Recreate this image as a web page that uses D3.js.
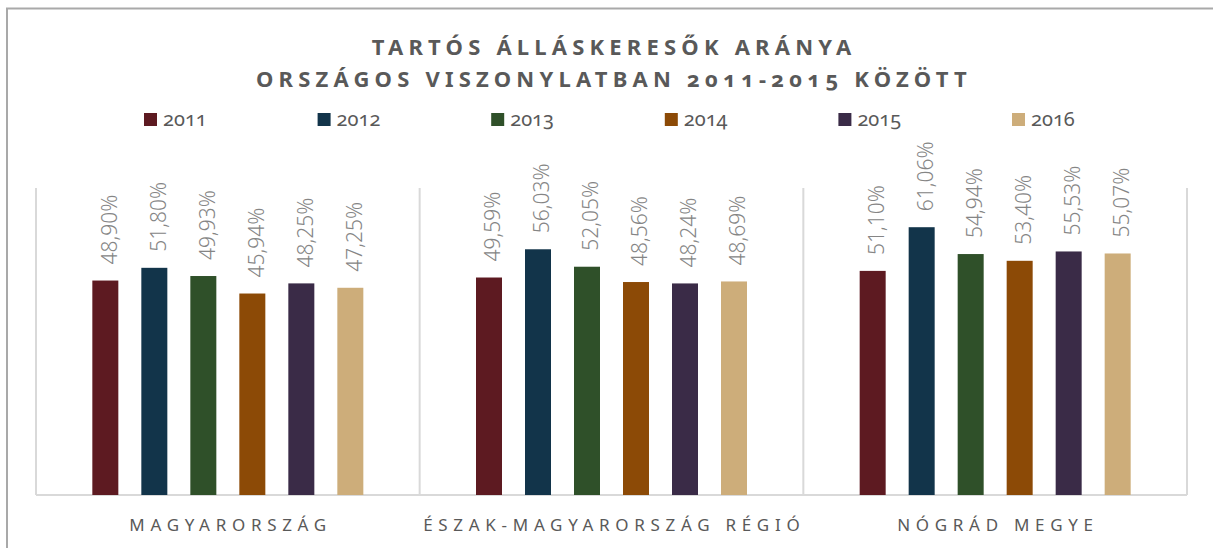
<!DOCTYPE html>
<html>
<head>
<meta charset="utf-8">
<script src="https://cdn.jsdelivr.net/npm/d3@7"></script>
<style>
  html, body { margin: 0; padding: 0; background: #fff; }
  svg { display: block; }
</style>
</head>
<body>
<svg id="chart" width="1213" height="548"></svg>
<script>
// Chart data
const categories = ["MAGYARORSZÁG", "ÉSZAK-MAGYARORSZÁG RÉGIÓ", "NÓGRÁD MEGYE"];
const years = ["2011", "2012", "2013", "2014", "2015", "2016"];
const values2011 = [48.90, 49.59, 51.10];
const values2012 = [51.80, 56.03, 61.06];
const values2013 = [49.93, 52.05, 54.94];
const values2014 = [45.94, 48.56, 53.40];
const values2015 = [48.25, 48.24, 55.53];
const values2016 = [47.25, 48.69, 55.07];
const seriesValues = [values2011, values2012, values2013, values2014, values2015, values2016];
const colors = ["#5d1a21", "#12344a", "#2f5029", "#8c4a06", "#3a2b47", "#cdad7a"];
const titleLines = ["TARTÓS ÁLLÁSKERESŐK ARÁNYA", "ORSZÁGOS VISZONYLATBAN 2011-2015 KÖZÖTT"];

const svg = d3.select("#chart");
const W = 1213, H = 548;
const plot = { left: 36, right: 1187, top: 188, bottom: 495 };

// Outer frame (only top and left edges are inside the view)
svg.append("path")
  .attr("d", `M7,${H} V8.5 H${W}`)
  .attr("fill", "none")
  .attr("stroke", "#a9a9a9")
  .attr("stroke-width", 2);

// Title
const title = svg.append("text")
  .attr("text-anchor", "middle")
  .attr("font-family", "'Noto Sans', 'Open Sans', sans-serif")
  .attr("font-weight", "bold")
  .attr("font-size", 22)
  .attr("letter-spacing", 5.2)
  .attr("fill", "#595959")
  .style("font-variant-numeric", "oldstyle-nums");
titleLines.forEach((t, i) => {
  title.append("tspan").attr("x", 614).attr("y", 55 + i * 32).text(t);
});

// Legend
const legendX = d3.scaleLinear().domain([0, years.length - 1]).range([144, 1012]);
const legend = svg.append("g").selectAll("g").data(years).join("g")
  .attr("transform", (d, i) => `translate(${legendX(i)},113)`);
legend.append("rect").attr("width", 13).attr("height", 13)
  .attr("fill", (d, i) => colors[i]);
legend.append("text")
  .attr("x", 19).attr("y", 13)
  .attr("font-family", "'Noto Sans', 'Open Sans', sans-serif")
  .attr("font-size", 20)
  .attr("fill", "#595959")
  .style("font-variant-numeric", "oldstyle-nums")
  .text(d => d);

// Scales
const x0 = d3.scaleBand().domain(categories).range([plot.left, plot.right]);
const bw = x0.bandwidth();
const groupW = 6 * 49;
const x1 = d3.scaleBand().domain(years)
  .range([(bw - groupW) / 2, (bw + groupW) / 2])
  .paddingInner(23 / 49).paddingOuter(23 / 98);
const y = d3.scaleLinear().domain([0, 70]).range([plot.bottom, plot.top]);

const fmt = d3.formatLocale({ decimal: ",", thousands: " ", grouping: [3], currency: ["", ""] }).format(".2f");

// Category separators and baseline
const grid = svg.append("g").attr("stroke", "#d9d9d9").attr("stroke-width", 2);
grid.selectAll("line.sep")
  .data(categories.map(c => x0(c)).concat([plot.right]))
  .join("line")
  .attr("class", "sep")
  .attr("x1", d => d).attr("x2", d => d)
  .attr("y1", plot.top).attr("y2", plot.bottom);
grid.append("line")
  .attr("x1", plot.left).attr("x2", plot.right)
  .attr("y1", plot.bottom).attr("y2", plot.bottom);

// Bars and value labels
const groups = svg.append("g").selectAll("g").data(categories).join("g")
  .attr("transform", d => `translate(${x0(d)},0)`);

const cells = groups.selectAll("g.cell")
  .data((c, ci) => years.map((yr, si) => ({ yr, si, v: seriesValues[si][ci] })))
  .join("g").attr("class", "cell");

cells.append("rect")
  .attr("x", d => x1(d.yr))
  .attr("width", x1.bandwidth())
  .attr("y", d => y(d.v))
  .attr("height", d => y(0) - y(d.v))
  .attr("fill", d => colors[d.si]);

cells.append("text")
  .attr("transform", d => `translate(${x1(d.yr) + x1.bandwidth() / 2 + 4},${y(d.v) - 16}) rotate(-90)`)
  .attr("dy", "0.35em")
  .attr("font-family", "'Noto Sans', 'Open Sans', sans-serif")
  .attr("font-weight", 300)
  .attr("font-size", 21)
  .attr("fill", "#858585")
  .text(d => fmt(d.v) + "%");

// Category labels
svg.append("g").selectAll("text").data(categories).join("text")
  .attr("x", d => x0(d) + bw / 2 + 2.8)
  .attr("y", 531)
  .attr("text-anchor", "middle")
  .attr("font-family", "'Noto Sans', 'Open Sans', sans-serif")
  .attr("font-size", 17)
  .attr("letter-spacing", 5.7)
  .attr("fill", "#595959")
  .text(d => d);
</script>
</body>
</html>
